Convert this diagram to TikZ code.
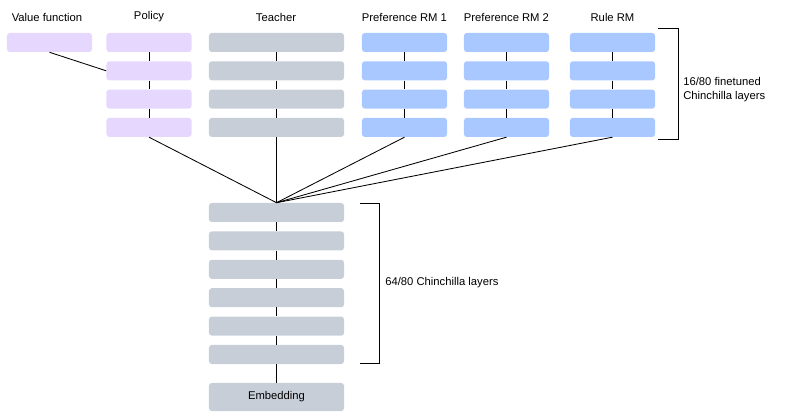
\documentclass[tikz,border=0pt]{standalone}
\usepackage{fontspec}
\setmainfont{Liberation Sans}
\usetikzlibrary{positioning}
\definecolor{policyfill}{RGB}{230,215,255}
\definecolor{trunkfill}{RGB}{200,206,216}
\definecolor{rmfill}{RGB}{168,200,255}

\begin{document}
\begin{tikzpicture}[
  x=0.025cm, y=-0.025cm,
  font=\fontsize{8}{10}\selectfont,
  layer/.style={rounded corners=2pt, inner sep=0pt, minimum height=0.475cm, minimum width=2.125cm},
  wide/.style={layer, minimum width=3.375cm, fill=trunkfill},
  link/.style={line width=0.6pt, draw=black},
  head/.style={inner sep=1pt}
]
\useasboundingbox (0,0) rectangle (785,419);

% ===================== heads (4 finetuned layers each) =====================
\node[layer, fill=policyfill] (val) at (49.5,42.5) {};
\node[head] (valtitle) at (47,17) {Value function};

\foreach \name/\cx/\col/\txt in {pol/149/policyfill/Policy,
    rma/404.5/rmfill/Preference RM 1,
    rmb/506.5/rmfill/Preference RM 2,
    rule/612.5/rmfill/Rule RM} {
  \node[head] (\name title) at (\cx,17) {\txt};
  \foreach \i in {1,...,4}
    \node[layer, fill=\col] (\name\i) at (\cx,{42.5+28.3*(\i-1)}) {};
  \foreach \i [evaluate=\i as \j using int(\i+1)] in {1,2,3}
    \draw[link] (\name\i) -- (\name\j);
}

% Teacher
\node[head] (teatitle) at (276,17) {Teacher};
\foreach \i in {1,...,4}
  \node[wide] (tea\i) at (276.5,{42.5+28.3*(\i-1)}) {};
\foreach \i [evaluate=\i as \j using int(\i+1)] in {1,2,3}
  \draw[link] (tea\i) -- (tea\j);

% ===================== shared trunk =====================
\foreach \i in {1,...,6}
  \node[wide] (trk\i) at (276.5,{212.5+28.4*(\i-1)}) {};
\foreach \i [evaluate=\i as \j using int(\i+1)] in {1,...,5}
  \draw[link] (trk\i) -- (trk\j);
\node[wide, minimum height=0.7cm] (emb) at (276.5,397) {Embedding};
\draw[link] (trk6) -- (emb);

% Connectors
\draw[link] (val.south) -- (pol2.west);
\foreach \name in {pol,tea,rma,rmb,rule}
  \draw[link] (\name4.south) -- (trk1.north);

% Brackets
\draw[link] (658,28) -- (678,28) -- (678,139) -- (658,139);
\node[anchor=west, align=left, inner sep=0pt] (toplbl) at (683,90)
  {16/80 finetuned\\Chinchilla layers};
\draw[link] (360,203) -- (379,203) -- (379,363) -- (360,363);
\node[anchor=west, inner sep=0pt] (trklbl) at (385,283) {64/80 Chinchilla layers};

\end{tikzpicture}
\end{document}
